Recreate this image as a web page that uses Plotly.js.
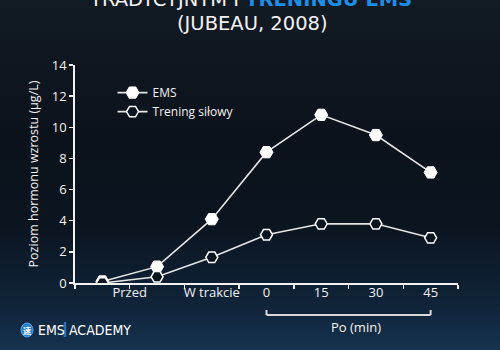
<!DOCTYPE html>
<html>
<head>
<meta charset="utf-8">
<script src="https://cdn.plot.ly/plotly-3.0.1.min.js"></script>
<style>
html,body{margin:0;padding:0;width:500px;height:350px;overflow:hidden;
background:linear-gradient(to bottom,#121a24 0%,#0b121b 40%,#0b1520 65%,#10243a 88%,#153350 100%);}
#chart{width:500px;height:350px;}
</style>
</head>
<body>
<div id="chart"></div>
<script>
// Data
const emsValues = [0.1, 1.05, 4.1, 8.4, 10.8, 9.5, 7.1];
const strengthValues = [0.0, 0.4, 1.65, 3.1, 3.8, 3.8, 2.9];
const tickLabels = ['Przed', 'W trakcie', '0', '15', '30', '45'];
const tickLabelSlots = [0.5, 2, 3, 4, 5, 6];
const seriesNames = ['EMS', 'Trening siłowy'];

const xIdx = emsValues.map((_, i) => i);
const boundaries = [];
for (let i = -0.5; i <= emsValues.length - 0.5; i += 1) boundaries.push(i);

const FONT = 'Open Sans, Lato, sans-serif';
const TFONT = 'DejaVu Sans, sans-serif';
const W = '#f2f2f2';

const traces = [
  {
    x: xIdx, y: emsValues, name: seriesNames[0], type: 'scatter', mode: 'lines+markers',
    line: {color: '#e6e6e6', width: 1.6},
    marker: {symbol: 'hexagon2', size: 13, color: '#ffffff', line: {color: '#ffffff', width: 1}}
  },
  {
    x: xIdx, y: strengthValues, name: seriesNames[1], type: 'scatter', mode: 'lines+markers',
    line: {color: '#e6e6e6', width: 1.6},
    marker: {symbol: 'hexagon2', size: 12, color: '#0b1520', line: {color: '#ffffff', width: 1.5}}
  },
  {x: [], y: [], xaxis: 'x2', showlegend: false, hoverinfo: 'skip'}
];

const px = v => (v - 75) / 383;   // helper for paper x
const py = v => (283 - v) / 218;  // helper for paper y

const layout = {
  width: 500, height: 350,
  margin: {l: 75, r: 42, t: 65, b: 67},
  paper_bgcolor: 'rgba(0,0,0,0)', plot_bgcolor: 'rgba(0,0,0,0)',
  font: {family: FONT, color: W, size: 12},
  showlegend: true,
  legend: {x: 0.098, y: 0.94, xanchor: 'left', yanchor: 'top', bgcolor: 'rgba(0,0,0,0)',
           font: {size: 12, color: W}, tracegroupgap: 0, itemwidth: 30},
  xaxis: {
    range: [-0.5, emsValues.length - 0.5], tickmode: 'array', tickvals: boundaries,
    ticktext: boundaries.map(() => ''), ticks: 'outside', ticklen: 4, tickwidth: 1.5, tickcolor: W,
    showline: true, linecolor: W, linewidth: 1.8, showgrid: false, zeroline: false, fixedrange: true
  },
  xaxis2: {
    overlaying: 'x', matches: 'x', anchor: 'y', side: 'bottom',
    range: [-0.5, emsValues.length - 0.5], tickmode: 'array', tickvals: tickLabelSlots,
    ticktext: tickLabels, ticks: '', showline: false, showgrid: false, zeroline: false,
    tickfont: {size: 13, color: W}
  },
  yaxis: {
    range: [0, 14], dtick: 2, ticks: 'outside', ticklen: 4, tickwidth: 1.5, tickcolor: W,
    showline: true, linecolor: W, linewidth: 1.8, showgrid: false, zeroline: false,
    tickfont: {size: 13, color: W},
    title: {text: 'Poziom hormonu wzrostu (µg/L)', font: {size: 12.5, color: W}, standoff: 10}
  },
  shapes: [
    {type: 'line', xref: 'x', yref: 'paper', x0: 3, x1: 6, y0: py(315), y1: py(315), line: {color: '#d8d8d8', width: 2}},
    {type: 'line', xref: 'x', yref: 'paper', x0: 3, x1: 3, y0: py(315), y1: py(310), line: {color: '#d8d8d8', width: 2}},
    {type: 'line', xref: 'x', yref: 'paper', x0: 6, x1: 6, y0: py(315), y1: py(310), line: {color: '#d8d8d8', width: 2}},
    {type: 'circle', xref: 'paper', yref: 'paper', x0: px(21), x1: px(33), y0: py(337), y1: py(323),
     fillcolor: '#2a7fd0', line: {color: '#5aa8ee', width: 1}},
    {type: 'line', xref: 'paper', yref: 'paper', x0: px(65), x1: px(65), y0: py(337), y1: py(322),
     line: {color: '#2a6fb0', width: 2.5}}
  ],
  annotations: [
    {xref: 'paper', yref: 'paper', x: px(250), y: py(-1), xanchor: 'center', yanchor: 'middle', showarrow: false,
     text: 'TRADYCYJNYM I <b><span style="color:#1d8fe6">TRENINGU EMS</span></b>', font: {size: 19.5, color: W, family: TFONT}},
    {xref: 'paper', yref: 'paper', x: px(252), y: py(24), xanchor: 'center', yanchor: 'middle', showarrow: false,
     text: '(JUBEAU, 2008)', font: {size: 19.5, color: W, family: TFONT}},
    {xref: 'paper', yref: 'paper', x: px(356), y: py(327), xanchor: 'center', yanchor: 'middle', showarrow: false,
     text: 'Po (min)', font: {size: 13, color: W, family: FONT}},
    {xref: 'paper', yref: 'paper', x: px(27), y: py(330), xanchor: 'center', yanchor: 'middle', showarrow: false,
     text: '<b>速</b>', font: {size: 8, color: '#ffffff', family: 'Noto Sans CJK SC'}},
    {xref: 'paper', yref: 'paper', x: px(36), y: py(330), xanchor: 'left', yanchor: 'middle', showarrow: false,
     text: 'EMS', font: {size: 14, color: '#ffffff', family: 'Liberation Sans Narrow, DejaVu Sans Condensed, sans-serif'}},
    {xref: 'paper', yref: 'paper', x: px(67), y: py(330), xanchor: 'left', yanchor: 'middle', showarrow: false,
     text: 'ACADEMY', font: {size: 14, color: '#ffffff', family: 'Liberation Sans Narrow, DejaVu Sans Condensed, sans-serif'}}
  ]
};

Plotly.newPlot('chart', traces, layout, {displayModeBar: false, staticPlot: true});
</script>
</body>
</html>
